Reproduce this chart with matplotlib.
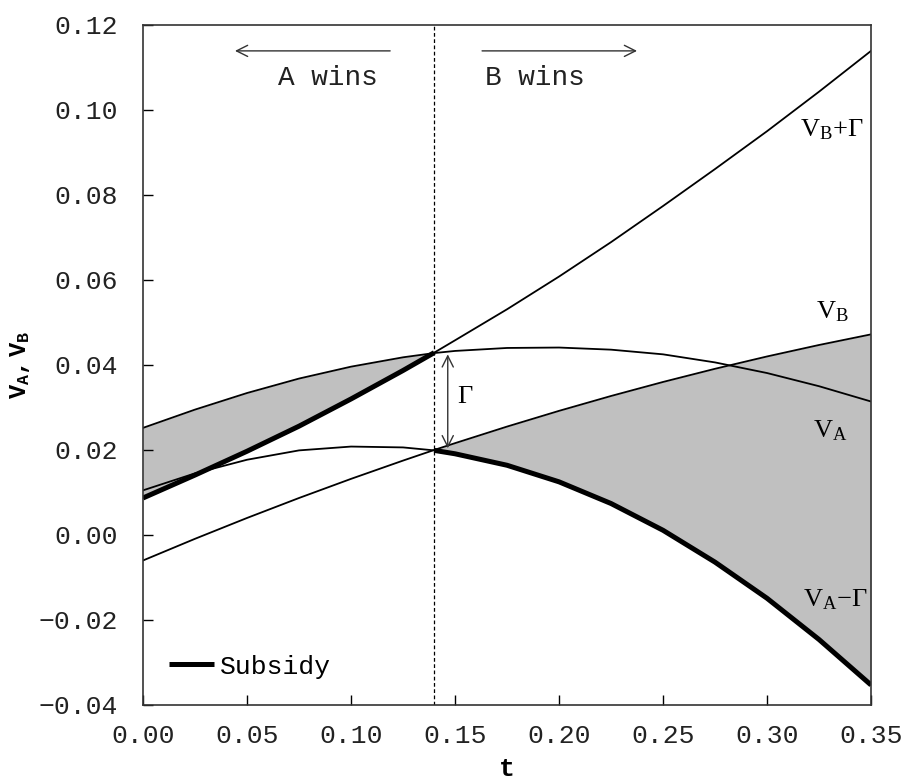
import matplotlib
matplotlib.use("Agg")
import matplotlib.pyplot as plt
import numpy as np

plt.rcParams['mathtext.fontset'] = 'custom'
plt.rcParams['mathtext.rm'] = 'Liberation Serif'
plt.rcParams['mathtext.it'] = 'Liberation Serif:italic'
plt.rcParams['mathtext.bf'] = 'Liberation Mono:bold'
MONO = 'Liberation Mono'

# sample points along t
t = [0.0, 0.025, 0.05, 0.075, 0.10, 0.125, 0.14, 0.15, 0.175, 0.20,
     0.225, 0.25, 0.275, 0.30, 0.325, 0.35]
V_A = [0.0252, 0.0295, 0.0334, 0.0368, 0.0396, 0.0418, 0.0428, 0.0433, 0.0440, 0.0441,
       0.0436, 0.0425, 0.0406, 0.0381, 0.0350, 0.0314]
V_B = [-0.0060, -0.0009, 0.0040, 0.0087, 0.0132, 0.0175, 0.0200, 0.0216, 0.0255, 0.0292,
       0.0327, 0.0360, 0.0391, 0.0420, 0.0447, 0.0472]
Gamma = [0.0147, 0.0150, 0.0157, 0.0169, 0.0188, 0.0212, 0.0229, 0.0242, 0.0276, 0.0316,
         0.0362, 0.0414, 0.0470, 0.0530, 0.0596, 0.0667]
t_switch = 0.14

xticks = [0.00, 0.05, 0.10, 0.15, 0.20, 0.25, 0.30, 0.35]
yticks = [-0.04, -0.02, 0.00, 0.02, 0.04, 0.06, 0.08, 0.10, 0.12]

t_arr = np.array(t)
va = np.array(V_A)
vb = np.array(V_B)
g = np.array(Gamma)
vbg = vb + g
vag = va - g

fig = plt.figure(figsize=(9.03, 7.80), dpi=100)
ax = fig.add_axes([0.1584, 0.0962, 0.8062, 0.8718])

left = t_arr <= t_switch
right = t_arr >= t_switch

ax.fill_between(t_arr[left], vbg[left], va[left], color='#c0c0c0', lw=0)
ax.fill_between(t_arr[right], vag[right], vb[right], color='#c0c0c0', lw=0)

lw = 1.3
ax.plot(t_arr, va, color='black', lw=lw)
ax.plot(t_arr, vb, color='black', lw=lw)
ax.plot(t_arr, vbg, color='black', lw=lw)
ax.plot(t_arr, vag, color='black', lw=lw)

# subsidy: V_B+Gamma where A wins, V_A-Gamma where B wins
ax.plot(t_arr[left], vbg[left], color='black', lw=3.6, solid_capstyle='butt',
        solid_joinstyle='round', label='Subsidy')
ax.plot(t_arr[right], vag[right], color='black', lw=3.6, solid_capstyle='butt',
        solid_joinstyle='round')

ax.axvline(t_switch, color='black', lw=0.9, ls=(0, (3, 2)))

# Gamma double arrow
ax.annotate('', xy=(0.1465, 0.0425), xytext=(0.1465, 0.0204),
            arrowprops=dict(arrowstyle='<->', color='#333333', lw=1.0,
                            mutation_scale=20, shrinkA=0, shrinkB=0))
ax.text(0.1510, 0.0327, r'$\mathrm{\Gamma}$', fontsize=19, ha='left', va='center')

# wins arrows
ax.annotate('', xy=(0.0442, 0.1139), xytext=(0.1188, 0.1139),
            arrowprops=dict(arrowstyle='->', color='#333333', lw=1.0,
                            mutation_scale=20, shrinkA=0, shrinkB=0))
ax.annotate('', xy=(0.2375, 0.1139), xytext=(0.163, 0.1139),
            arrowprops=dict(arrowstyle='->', color='#333333', lw=1.0,
                            mutation_scale=20, shrinkA=0, shrinkB=0))
ax.text(0.0889, 0.1075, 'A wins', fontsize=20, family=MONO, ha='center', va='center',
        color='#222222')
ax.text(0.1885, 0.1075, 'B wins', fontsize=20, family=MONO, ha='center', va='center',
        color='#222222')

# curve labels
ax.text(0.3313, 0.0955, r'$\mathrm{V_B{+}\Gamma}$', fontsize=19, ha='center', va='center')
ax.text(0.3313, 0.0527, r'$\mathrm{V_B}$', fontsize=19, ha='center', va='center')
ax.text(0.3303, 0.0245, r'$\mathrm{V_A}$', fontsize=19, ha='center', va='center')
ax.text(0.3330, -0.0151, r'$\mathrm{V_A{-}\Gamma}$', fontsize=19, ha='center', va='center')

ax.set_xlim(0, 0.35)
ax.set_ylim(-0.04, 0.12)
ax.set_xticks(xticks)
ax.set_yticks(yticks)
ax.set_xticklabels([f'{v:.2f}' for v in xticks])
ax.set_yticklabels([f'{v:.2f}'.replace('-', '\u2212') for v in yticks])
ax.tick_params(direction='in', length=7, width=1, top=False, right=False,
               labelsize=19)
ax.tick_params(axis='x', pad=14)
ax.tick_params(axis='y', pad=18)
for lab in ax.get_xticklabels() + ax.get_yticklabels():
    lab.set_family(MONO)
    lab.set_color('#222222')
for s in ax.spines.values():
    s.set_linewidth(1.2)
    s.set_color('#333333')

ax.set_xlabel('t', family=MONO, fontweight='bold', fontsize=19, labelpad=6)
ax.set_ylabel(r'$\mathbf{V_A,V_B}$', fontsize=17)
ax.yaxis.set_label_coords(-0.152, 0.5)

leg = ax.legend(loc='lower left', frameon=False, prop={'family': MONO, 'size': 19},
                handlelength=1.7, handletextpad=0.2, borderaxespad=0.6)

fig.savefig('out.png', dpi=100)
